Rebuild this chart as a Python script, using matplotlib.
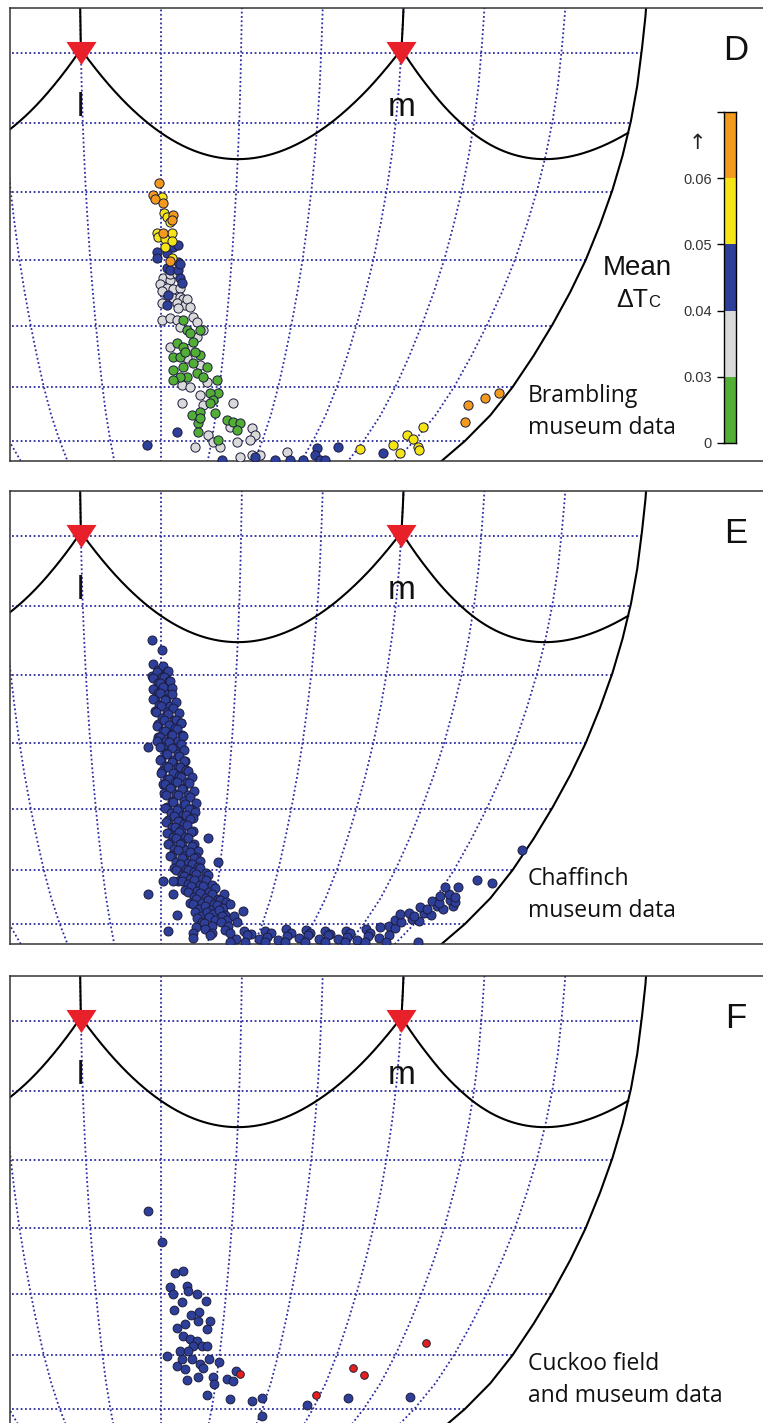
import numpy as np
import matplotlib
matplotlib.use("Agg")
import matplotlib.pyplot as plt
import matplotlib.transforms as mtransforms

plt.rcParams['font.family'] = ['Liberation Sans', 'DejaVu Sans']

# Robinson projection table: latitude, X (parallel length), Y (distance from equator)
ROB_LAT = np.arange(0, 95, 5)
ROB_X = np.array([1.0000, 0.9986, 0.9954, 0.9900, 0.9822, 0.9730, 0.9600, 0.9427, 0.9216, 0.8962,
                  0.8679, 0.8350, 0.7986, 0.7597, 0.7186, 0.6732, 0.6213, 0.5722, 0.5322])
ROB_Y = np.array([0.0000, 0.0620, 0.1240, 0.1860, 0.2480, 0.3100, 0.3720, 0.4340, 0.4958, 0.5571,
                  0.6176, 0.6769, 0.7346, 0.7903, 0.8435, 0.8936, 0.9394, 0.9761, 1.0000])

# cone vertices of the tetrahedral colour space (theta, phi in degrees)
cone_names = ['u', 's', 'm', 'l']
cone_theta = [0.0, -150.0, 90.0, -30.0]
cone_phi = [90.0, -19.47, -19.47, -19.47]
shown_cones = ['l', 'm']

# colour bar: mean delta Tc bins
dtc_labels = ['0', '0.03', '0.04', '0.05', '0.06', '']
dtc_colors = ['#52ae34', '#d9d9d9', '#2e3f9a', '#f6e516', '#f39a1e']

# Brambling museum data (theta, phi), grouped by mean delta Tc
bram_gray = [(0.9, -52.6), (3.9, -53.0), (-0.4, -53.5), (2.6, -54.1), (5.2, -54.3), (8.3, -54.1),
             (0.4, -54.6), (2.7, -55.6), (5.3, -55.6), (8.4, -55.5), (9.7, -55.9), (0.4, -56.4),
             (7.1, -56.4), (10.7, -56.7), (3.9, -52.0), (6.9, -52.0), (11.5, -55.9), (13.0, -57.0),
             (7.6, -57.2), (0.5, -59.1), (4.1, -58.8), (7.3, -59.1), (14.5, -58.6), (16.5, -59.4),
             (19.4, -60.6), (8.8, -60.2), (4.3, -63.4), (13.8, -63.5), (16.9, -61.8), (12.6, -65.2),
             (19.1, -66.3), (23.4, -69.2), (10.7, -69.7), (14.8, -70.0), (20.3, -71.4), (11.2, -72.9),
             (22.5, -73.2), (38.3, -72.9), (27.3, -78.8), (31.0, -80.2), (20.6, -81.4), (35.8, -81.4),
             (39.0, -77.3), (45.2, -80.2), (51.7, -77.5), (54.7, -78.8), (52.7, -79.8), (50.0, -84.0),
             (56.9, -83.3), (61.9, -83.3), (77.8, -82.6)]
bram_green = [(10.0, -59.1), (18.1, -60.6), (12.0, -60.6), (7.6, -62.7), (10.5, -63.4), (15.2, -62.6),
              (5.8, -65.0), (9.2, -65.0), (18.8, -64.7), (15.7, -66.0), (22.7, -66.7), (10.8, -66.7),
              (5.9, -67.2), (18.0, -67.7), (21.1, -68.3), (13.1, -68.3), (9.5, -68.3), (6.1, -68.8),
              (28.3, -68.8), (29.5, -71.1), (25.4, -71.1), (27.4, -72.3), (16.9, -75.0), (21.2, -74.5),
              (26.1, -72.9), (29.3, -74.6), (20.7, -76.5), (21.5, -75.6), (21.3, -78.3), (33.7, -79.8),
              (36.7, -76.0), (40.2, -76.3), (44.1, -76.5), (43.4, -77.9), (13.5, -61.1), (11.5, -64.2),
              (16.3, -64.2)]
bram_blue = [(-1.7, -48.8), (-1.7, -49.6), (2.5, -48.9), (5.0, -48.1), (7.1, -47.8), (7.2, -50.3),
             (2.6, -51.1), (3.8, -51.5), (7.3, -51.5), (8.2, -52.6), (9.1, -53.4), (8.1, -50.5),
             (3.1, -55.2), (2.7, -56.7), (9.2, -78.3), (-8.4, -81.0), (38.9, -84.5), (59.5, -84.0),
             (72.6, -84.5), (82.2, -84.5), (90.4, -84.5), (95.1, -81.7), (96.3, -83.3), (101.3, -84.5),
             (104.5, -84.5), (107.3, -81.4), (137.9, -82.9)]
bram_yellow = [(0.4, -40.7), (1.2, -43.1), (2.4, -43.7), (3.7, -44.4), (-1.7, -45.9), (-1.2, -46.6),
               (1.7, -46.8), (4.5, -46.0), (4.6, -47.1), (1.7, -48.1), (4.6, -49.6), (121.6, -81.9),
               (139.6, -81.0), (148.4, -82.9), (143.0, -78.8), (148.2, -79.6), (155.8, -81.4),
               (158.3, -82.1), (148.6, -77.3)]
bram_orange = [(-0.8, -38.7), (-3.2, -40.4), (-2.4, -41.0), (0.8, -41.6), (4.9, -43.4), (4.5, -44.1),
               (0.8, -45.9), (3.8, -50.1), (169.6, -76.3), (163.8, -73.2), (170.3, -72.0), (175.5, -71.1)]

# Chaffinch museum data (theta, phi)
chaffinch = [
    (-3.5, -34.9), (0.4, -36.4),
    (-3.2, -38.4), (-1.2, -39.3), (0.8, -38.7), (2.4, -39.5),
    (-3.6, -40.1), (-1.6, -39.5), (0.4, -40.3), (2.8, -39.4),
    (-3.2, -40.4), (-1.2, -41.2), (1.2, -40.3), (3.2, -40.8),
    (-2.8, -42.1), (-0.4, -41.2), (1.6, -41.7), (3.6, -40.9),
    (-3.2, -42.1), (-1.2, -42.6), (0.8, -41.8), (2.8, -42.7), (4.5, -41.9),
    (-2.4, -43.4), (-0.4, -42.6), (2.0, -43.5), (4.5, -42.7),
    (-3.3, -43.5), (-0.8, -44.4), (1.6, -43.6), (3.7, -44.5), (6.1, -43.9),
    (-2.5, -45.3), (0.0, -44.5), (2.5, -45.4), (4.9, -44.8),
    (-2.1, -45.4), (0.4, -46.3), (2.9, -45.7), (5.4, -46.5), (7.4, -45.6),
    (-1.2, -47.2), (1.2, -46.6), (3.7, -47.4), (6.2, -46.5), (8.3, -47.0),
    (-1.7, -47.4), (0.8, -48.2), (3.3, -47.3), (5.9, -47.8), (8.4, -47.0),
    (-1.3, -49.1), (1.7, -48.2), (4.2, -48.7), (6.7, -47.9), (8.8, -48.8),
    (-0.4, -49.1), (2.1, -49.6), (4.6, -48.8), (7.2, -49.7), (9.3, -48.9),
    (-5.5, -50.5), (-1.7, -49.7), (0.9, -50.6), (3.4, -49.8), (6.0, -50.7), (8.5, -50.1),
    (-0.4, -50.6), (2.1, -51.5), (4.7, -50.7), (7.3, -51.6), (9.8, -51.0),
    (0.0, -52.4), (2.6, -51.6), (5.2, -52.5), (7.8, -51.9), (10.3, -52.7),
    (-0.4, -52.5), (2.2, -53.4), (4.8, -52.8), (7.4, -53.6), (10.0, -52.7),
    (0.4, -54.2), (3.1, -53.6), (5.7, -54.4), (8.3, -53.5), (10.9, -54.0),
    (0.0, -54.5), (2.6, -55.3), (5.3, -54.4), (7.9, -54.9), (11.9, -54.1),
    (0.9, -56.2), (3.5, -55.3), (6.2, -55.8), (8.8, -55.0), (11.5, -55.9), (13.7, -55.1),
    (1.8, -56.2), (4.5, -56.7), (7.1, -55.9), (9.8, -56.8), (12.5, -56.0),
    (1.4, -57.6), (4.1, -56.8), (6.8, -57.7), (9.5, -56.9), (12.2, -57.8), (14.9, -57.2),
    (2.3, -57.8), (5.0, -58.7), (7.7, -57.9), (10.5, -58.8), (13.2, -58.2), (15.9, -59.0),
    (2.8, -59.7), (5.5, -58.9), (8.3, -59.8), (11.0, -59.2), (13.8, -60.0),
    (1.9, -59.8), (4.6, -60.7), (7.4, -60.1), (10.2, -60.9), (13.0, -60.0), (15.7, -60.5),
    (3.3, -61.7), (6.1, -61.1), (8.9, -61.9), (11.7, -61.0), (15.0, -61.5),
    (2.4, -62.0), (5.2, -62.8), (8.0, -61.9), (10.8, -62.4), (13.7, -61.6),
    (3.8, -63.8), (6.7, -62.9), (9.5, -63.4), (12.4, -62.6), (15.2, -63.5),
    (2.9, -63.9), (5.8, -64.4), (8.7, -63.6), (11.5, -64.5), (14.4, -63.7), (22.6, -64.6),
    (4.4, -65.4), (7.3, -64.6), (10.2, -65.5), (13.1, -64.7), (16.0, -65.6),
    (3.4, -65.6), (6.4, -66.5), (9.3, -65.7), (12.3, -66.6), (15.2, -66.0), (18.1, -66.8),
    (5.4, -67.5), (8.4, -66.7), (11.4, -67.6), (14.4, -67.0), (17.3, -67.8),
    (4.5, -67.7), (7.5, -68.6), (10.5, -68.0), (13.5, -68.8), (16.5, -67.9), (19.5, -68.4),
    (6.6, -69.6), (9.6, -69.0), (12.6, -69.8), (15.7, -68.9), (18.7, -69.4), (28.8, -68.6),
    (7.7, -70.0), (10.8, -70.8), (13.8, -69.9), (16.9, -70.4), (20.0, -69.6), (23.1, -70.5),
    (8.9, -71.9), (12.0, -71.0), (15.1, -71.5), (18.2, -70.7), (21.4, -71.6), (24.5, -70.8),
    (1.1, -72.0), (6.3, -72.0),
    (11.1, -72.0), (14.2, -72.5), (17.4, -71.7), (20.5, -72.6), (23.7, -71.8), (26.8, -72.7),
    (12.8, -73.6), (16.0, -72.8), (19.3, -73.7), (22.5, -72.9), (25.7, -73.8), (28.9, -73.2),
    (-7.0, -74.3), (6.5, -74.3),
    (14.7, -73.9), (17.9, -74.8), (21.2, -74.0), (24.5, -74.9), (27.7, -74.3), (31.0, -75.1), (34.2, -74.2),
    (16.0, -75.9), (19.3, -75.1), (22.7, -76.0), (26.0, -75.4), (29.3, -76.2), (32.6, -75.3), (35.9, -75.8),
    (18.0, -76.2), (21.3, -77.1), (24.7, -76.5), (28.1, -77.3), (31.5, -76.4), (34.8, -76.9), (38.2, -76.1),
    (9.1, -78.3), (19.4, -77.7), (22.9, -78.5), (26.3, -77.6), (29.7, -78.1), (33.1, -77.3), (36.6, -78.2),
    (46.3, -77.4),
    (20.9, -78.8), (24.4, -79.6), (27.9, -78.7), (31.4, -79.2), (34.9, -78.4), (38.4, -79.3), (41.9, -78.5),
    (20.8, -80.8), (25.6, -79.9), (30.4, -80.4), (35.1, -79.6), (39.9, -80.5), (44.6, -79.7),
    (4.3, -81.6), (19.5, -82.1), (26.8, -81.3), (31.0, -82.2), (38.9, -81.4), (42.5, -82.3), (50.7, -81.7),
    (55.2, -82.5), (63.0, -81.6), (67.1, -82.1), (75.6, -81.3), (79.8, -82.2), (87.9, -81.4), (91.4, -82.3),
    (99.6, -81.7), (104.0, -82.5), (112.3, -81.6), (116.0, -82.1), (124.1, -81.3), (128.5, -82.2),
    (20.0, -83.5), (30.6, -82.7), (47.2, -83.6), (53.5, -82.8), (61.4, -83.7), (65.8, -83.1), (73.9, -83.9),
    (78.2, -83.0), (86.5, -83.5), (90.7, -82.7), (99.0, -83.6), (103.3, -82.8), (111.6, -83.7),
    (115.8, -83.1), (124.0, -83.9), (128.5, -83.0), (136.4, -83.5), (141.0, -82.7),
    (43.9, -84.3), (53.5, -84.3), (66.2, -84.3), (79.0, -84.3), (91.7, -84.3), (104.5, -84.3),
    (117.2, -84.3), (129.9, -84.3), (142.7, -84.3), (163.1, -84.3),
    (131.1, -80.7), (135.9, -80.4), (140.7, -81.0),
    (136.8, -79.3), (141.5, -79.7), (146.2, -79.0), (151.5, -79.5),
    (137.0, -78.1), (141.5, -77.8), (146.1, -78.4), (150.7, -77.9), (155.3, -78.3),
    (145.5, -76.7), (150.0, -77.1), (154.5, -76.5), (159.0, -77.0), (163.5, -76.6),
    (149.7, -75.6), (154.1, -75.9), (158.6, -75.3), (162.4, -75.7),
    (151.6, -74.6), (156.0, -74.3), (160.3, -74.8),
    (151.1, -73.0), (158.0, -73.0), (165.4, -71.8), (174.2, -72.2), (178.3, -66.7),
]

# Cuckoo museum (blue) and field (red) data
cuckoo_museum = [(-5.4, -47.5), (0.4, -52.0), (6.3, -56.8), (9.9, -56.5), (4.1, -58.9), (5.5, -60.0),
                 (11.9, -58.8), (12.4, -59.5), (16.6, -60.0), (9.8, -61.3), (21.0, -61.1), (6.2, -62.6),
                 (14.3, -63.4), (18.0, -62.8), (7.8, -65.5), (11.6, -64.8), (17.9, -64.3), (23.7, -64.3),
                 (22.4, -65.7), (10.8, -66.8), (14.4, -67.3), (17.8, -67.7), (20.6, -68.5), (16.1, -68.5),
                 (23.1, -68.5), (9.6, -69.3), (13.7, -69.3), (3.1, -70.2), (8.4, -72.0), (10.8, -70.7),
                 (16.0, -70.7), (20.3, -71.6), (24.7, -70.7), (30.1, -71.3), (12.7, -72.5), (22.2, -72.2),
                 (14.1, -74.5), (19.9, -73.9), (28.0, -73.9), (29.1, -75.2), (35.7, -74.3), (38.9, -74.6),
                 (39.9, -72.9), (26.0, -77.3), (39.5, -78.1), (52.3, -78.4), (57.7, -77.9), (61.6, -81.7),
                 (85.4, -79.3), (106.9, -77.9), (141.9, -77.7)]
cuckoo_field = [(42.2, -73.4), (87.6, -77.3), (101.1, -72.2), (109.1, -73.6), (132.5, -68.0)]

panels = ['D', 'E', 'F']
notes = [('Brambling', 'museum data'), ('Chaffinch', 'museum data'), ('Cuckoo field', 'and museum data')]

GRID = '#2c2ca2'
BLUE = '#2e3f9a'
EDGE_DOT = '#1c1c3c'


def robinson(theta, phi):
    theta = np.radians(np.asarray(theta, float))
    phi = np.asarray(phi, float)
    a = np.abs(phi)
    x = np.interp(a, ROB_LAT, ROB_X) * theta
    y = np.sign(phi) * np.interp(a, ROB_LAT, ROB_Y)
    return x, y


def to_vec(theta, phi):
    t, p = np.radians(theta), np.radians(phi)
    return np.array([np.cos(p) * np.cos(t), np.cos(p) * np.sin(t), np.sin(p)])


def tetra_edge(i, j, n=400):
    a = to_vec(cone_theta[i], cone_phi[i])
    b = to_vec(cone_theta[j], cone_phi[j])
    t = np.linspace(0, 1, n)[:, None]
    p = a + t * (b - a)
    th = np.degrees(np.arctan2(p[:, 1], p[:, 0]))
    ph = np.degrees(np.arctan2(p[:, 2], np.hypot(p[:, 0], p[:, 1])))
    jump = np.where(np.abs(np.diff(th)) > 180)[0]
    th = np.insert(th, jump + 1, np.nan)
    ph = np.insert(ph, jump + 1, np.nan)
    return th, ph


def dots(ax, pts, color, s=44):
    th, ph = np.array(pts, float).T
    x, y = robinson(th, ph)
    ax.scatter(x, y, s=s, c=color, edgecolors=EDGE_DOT, linewidths=0.7, zorder=3)


def draw_space(fig, ax, letter, note):
    ax.set_xlim(-0.9698, 3.911)
    ax.set_ylim(-0.9751, -0.1679)
    ax.set_xticks([])
    ax.set_yticks([])
    for sp in ax.spines.values():
        sp.set_linewidth(1.1)
        sp.set_color('#333333')

    th = np.linspace(-180, 180, 721)
    for lat in range(-80, 90, 10):
        x, y = robinson(th, np.full_like(th, lat))
        ax.plot(x, y, ls=(0, (1, 1.4)), color=GRID, lw=1.3, zorder=1)
    ph = np.linspace(-90, 90, 721)
    for lon in range(-150, 180, 30):
        x, y = robinson(np.full_like(ph, lon), ph)
        ax.plot(x, y, ls=(0, (1, 1.4)), color=GRID, lw=1.3, zorder=1)
    for lon in (-180, 180):
        x, y = robinson(np.full_like(ph, lon), ph)
        ax.plot(x, y, color='black', lw=1.5, zorder=2)

    for i in range(4):
        for j in range(i + 1, 4):
            te, pe = tetra_edge(i, j)
            x, y = robinson(te, pe)
            ax.plot(x, y, color='black', lw=1.5, zorder=2)

    shift = ax.transData + mtransforms.ScaledTranslation(0, -0.04, fig.dpi_scale_trans)
    tri = [(-1, 0.77), (1, 0.77), (0, -0.77), (-1, 0.77)]
    for name in shown_cones:
        k = cone_names.index(name)
        x, y = robinson(cone_theta[k], cone_phi[k])
        ax.plot(x, y, marker=tri, ms=21.6, color='#e8202a', mec='none', transform=shift, zorder=4)
        ax.annotate(name, (x, y), xytext=(0, -48), textcoords='offset points',
                    ha='center', va='baseline', fontsize=24, color='#111111')

    ax.text(0.955, 0.885, letter, transform=ax.transAxes, ha='center', va='baseline',
            fontsize=25, color='#111111')
    ax.text(0.6816, 0.13, note[0], transform=ax.transAxes, ha='left', va='baseline',
            fontsize=16.5, family='Open Sans', color='#111111')
    ax.text(0.6816, 0.06, note[1], transform=ax.transAxes, ha='left', va='baseline',
            fontsize=16.5, family='Open Sans', color='#111111')


W, H = 763, 1423
fig = plt.figure(figsize=(W / 100, H / 100), dpi=100)
tops = [8, 491, 976]
axes = []
for letter, note, top in zip(panels, notes, tops):
    ax = fig.add_axes([10 / W, (H - top - 453) / H, 760 / W, 453 / H])
    draw_space(fig, ax, letter, note)
    axes.append(ax)

# D: Brambling
axD = axes[0]
dots(axD, bram_gray, dtc_colors[1])
dots(axD, bram_green, dtc_colors[0])
dots(axD, bram_blue, dtc_colors[2])
dots(axD, bram_yellow, dtc_colors[3])
dots(axD, bram_orange, dtc_colors[4])

# E: Chaffinch
dots(axes[1], chaffinch, BLUE, s=42)

# F: Cuckoo
dots(axes[2], cuckoo_museum, BLUE, s=40)
dots(axes[2], cuckoo_field, '#e3201b', s=30)

# colour bar for mean delta Tc
cax = fig.add_axes([724 / W, (H - 443) / H, 12 / W, 331 / H])
for i, c in enumerate(dtc_colors):
    cax.bar(0, 1, bottom=i, width=1, color=c, edgecolor='none')
cax.set_xlim(-0.5, 0.5)
cax.set_ylim(0, 5)
cax.set_xticks([])
cax.set_yticks(range(6))
cax.set_yticklabels(dtc_labels, fontsize=10.5, color='#333333')
cax.tick_params(axis='y', length=5, width=1, pad=3.8)
for sp in cax.spines.values():
    sp.set_linewidth(1)
fig.text(697 / W, 1 - 143 / H, '\u2191', ha='center', va='center', fontsize=15, color='#222222',
         family='DejaVu Sans')
fig.text(603 / W, 1 - 275 / H, 'Mean', ha='left', va='baseline', fontsize=20, color='#111111')
fig.text(616 / W, 1 - 307 / H, '\u0394T', ha='left', va='baseline', fontsize=18, color='#111111')
fig.text(648 / W, 1 - 307 / H, 'C', ha='left', va='baseline', fontsize=12, color='#111111')

fig.savefig('out.png', dpi=100)
